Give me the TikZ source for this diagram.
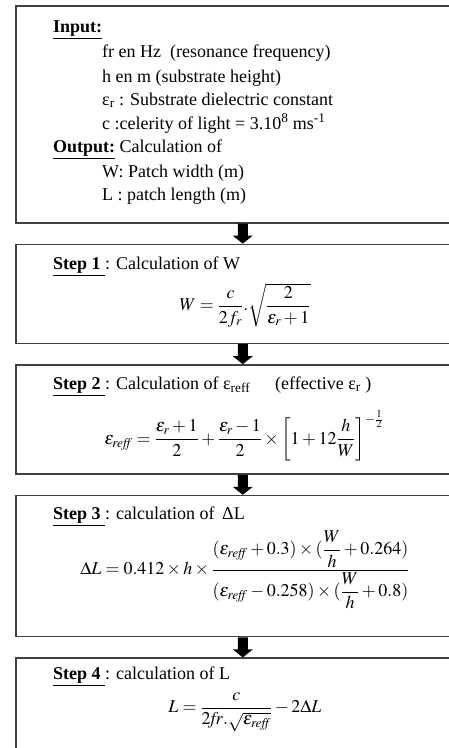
\documentclass[tikz,border=0pt]{standalone}
\usepackage{amsmath}
\usepackage{mathptmx}
\usepackage[no-math]{fontspec}
\setmainfont{Liberation Serif}
\usetikzlibrary{calc,positioning}
\definecolor{outline}{HTML}{404040}

\begin{document}
\begin{tikzpicture}[x=1pt, y=-1pt, font=\fontsize{18}{24}\selectfont,
  block/.style={draw=outline, line width=1.6pt, minimum width=454pt, inner sep=0pt},
  head/.style={anchor=base west, inner sep=0pt},
  formula/.style={inner sep=0pt}]
  \useasboundingbox (0,0) rectangle (449,748);
  \clip (0,0) rectangle (449,748);

  \node[block, minimum height=217pt, anchor=north west] (input) at (15,5) {};
  \node[block, minimum height=99pt, below=20pt of input] (stepone) {};
  \node[block, minimum height=109pt, below=20pt of stepone] (steptwo) {};
  \node[block, minimum height=141pt, below=20pt of steptwo] (stepthree) {};
  \node[block, minimum height=160pt, below=20pt of stepthree] (stepfour) {};

  % block arrows between the boxes
  \foreach \a/\b in {input/stepone, stepone/steptwo, steptwo/stepthree, stepthree/stepfour}
    \fill ($(\a.south)+(-5,0)$) -- ($(\b.north)+(-5,-8)$) -- ($(\b.north)+(-10,-8)$)
      -- (\b.north) -- ($(\b.north)+(10,-8)$) -- ($(\b.north)+(5,-8)$)
      -- ($(\a.south)+(5,0)$) -- cycle;

  \node[head] (inputlabel) at (53,32) {\underline{\textbf{Input:}}};
  \node[head] (outputlabel) at (53,152) {\underline{\textbf{Output:}} Calculation of};
  \foreach \y/\txt in {57/{fr en Hz\ \ (resonance frequency)}, 82/{h en m (substrate height)},
      105/{ε\textsubscript{r} : Substrate dielectric constant},
      129/{c :celerity of light = 3.10\textsuperscript{8} ms\textsuperscript{-1}},
      177/{W: Patch width (m)}, 200/{L : patch length (m)}}
    \node[head] (line\y) at (102,\y) {\txt};

  \node[head] (stepone-title) at (53,269) {\underline{\textbf{Step 1 }}: Calculation of W};
  \node[formula] (stepone-eq) at (245,305)
    {$W=\dfrac{c}{2f_r}.\sqrt{\dfrac{2}{\varepsilon_r+1}}$};

  \node[head] (steptwo-title) at (53,389)
    {\underline{\textbf{Step 2 }}: Calculation of ε\textsubscript{reff}\hspace{25pt}(effective ε\textsubscript{r} )};
  \node[formula] (steptwo-eq) at (244,436)
    {$\varepsilon_{\mathit{reff}}=\dfrac{\varepsilon_r+1}{2}+\dfrac{\varepsilon_r-1}{2}\times\left[1+12\dfrac{h}{W}\right]^{-\frac{1}{2}}$};

  \node[head] (stepthree-title) at (53,519) {\underline{\textbf{Step 3 }}: calculation of \,ΔL};
  \node[formula] (stepthree-eq) at (245,570)
    {$\Delta L=0.412\times h\times\dfrac{(\varepsilon_{\mathit{reff}}+0.3)\times(\dfrac{W}{h}+0.264)}{(\varepsilon_{\mathit{reff}}-0.258)\times(\dfrac{W}{h}+0.8)}$};

  \node[head] (stepfour-title) at (53,679) {\underline{\textbf{Step 4 }}: calculation of L};
  \node[formula] (stepfour-eq) at (245,712)
    {$L=\dfrac{c}{2\mathit{fr}.\sqrt{\varepsilon_{\mathit{reff}}}}-2\Delta L$};
\end{tikzpicture}
\end{document}
